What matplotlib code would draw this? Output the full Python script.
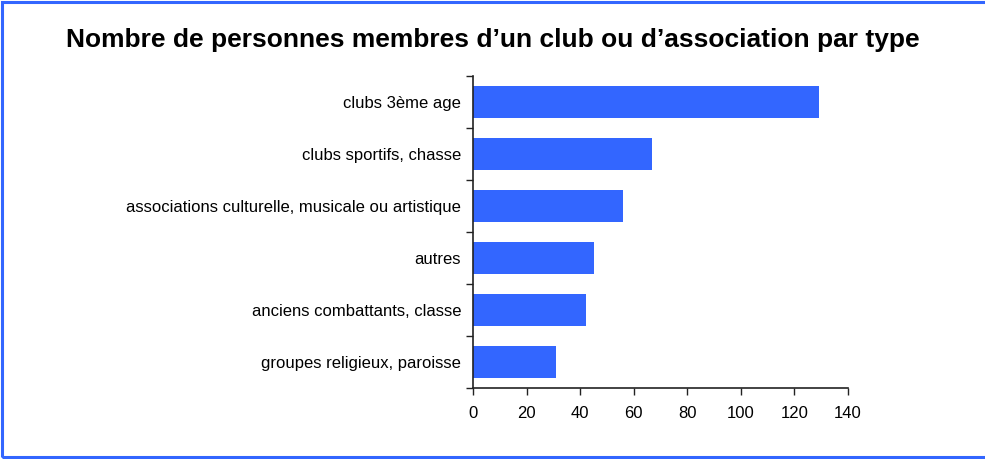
import numpy as np
import matplotlib
matplotlib.use("Agg")
import matplotlib.pyplot as plt
from matplotlib.patches import Rectangle

categories = ["clubs 3ème age", "clubs sportifs, chasse",
              "associations culturelle, musicale ou artistique", "autres",
              "anciens combattants, classe", "groupes religieux, paroisse"]
values = [129, 67, 56, 45, 42, 31]
xticks = [0, 20, 40, 60, 80, 100, 120, 140]

plt.rcParams['font.family'] = ['Liberation Sans', 'DejaVu Sans']

fig = plt.figure(figsize=(9.85, 4.59), dpi=100)
ax = fig.add_axes([473 / 985, 1 - 388 / 459, 375 / 985, 312 / 459])

y = np.arange(len(categories))[::-1]
ax.barh(y, values, height=0.63, color="#3366ff")

ax.set_xlim(0, 140)
ax.set_ylim(-0.5, len(categories) - 0.5)
ax.set_xticks(xticks)
ax.set_xticklabels([str(t) for t in xticks], fontsize=12)
ax.set_yticks(y)
ax.set_yticklabels(categories, fontsize=12)
ax.set_yticks(np.arange(-0.5, len(categories)), minor=True)
ax.tick_params(axis='y', which='major', length=0, pad=8.5)
ax.tick_params(axis='y', which='minor', length=5, width=1, color='#222222')
ax.tick_params(axis='x', length=5, width=1, color='#222222', pad=8)
for s in ["top", "right"]:
    ax.spines[s].set_visible(False)
for s in ["left", "bottom"]:
    ax.spines[s].set_color('#222222')
    ax.spines[s].set_linewidth(1.2)

fig.text(493 / 985, 1 - 40 / 459, "Nombre de personnes membres d\u2019un club ou d\u2019association par type",
         ha='center', va='center', fontsize=19, fontweight='bold')

fig.patches.append(Rectangle((1.5 / 985, 2 / 459), 1.0, 1 - 3.5 / 459, transform=fig.transFigure,
                             fill=False, edgecolor="#3366ff", linewidth=2.2))

fig.savefig("out.png", dpi=100)
